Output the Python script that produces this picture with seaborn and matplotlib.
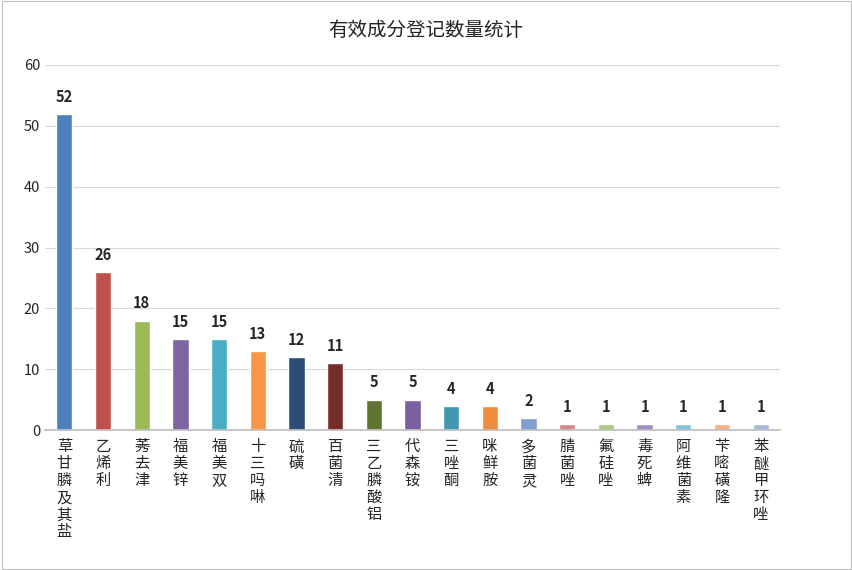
import matplotlib
matplotlib.use("Agg")
import matplotlib.pyplot as plt
import seaborn as sns
import pandas as pd

categories = ["草甘膦及其盐","乙烯利","莠去津","福美锌","福美双","十三吗啉","硫磺","百菌清","三乙膦酸铝",
              "代森铵","三唑酮","咪鲜胺","多菌灵","腈菌唑","氟硅唑","毒死蜱","阿维菌素","苄嘧磺隆","苯醚甲环唑"]
values = [52,26,18,15,15,13,12,11,5,5,4,4,2,1,1,1,1,1,1]
colors = ["#4F81BD","#C0504D","#9BBB59","#8064A2","#4BACC6","#F79646","#2C4D75","#772C2A","#5F7530",
          "#7B5FA0","#4298AF","#EE8C3F","#7F9FCC","#D58A89","#AFC97E","#A08EC0","#7FC5D8","#F9B281","#A7B9DA"]

sns.set_theme(style="white", rc={"font.family": ["Noto Sans CJK SC","Noto Sans CJK JP","Noto Sans CJK TC","DejaVu Sans"]})
fig = plt.figure(figsize=(8.53,5.70), dpi=100)
ax = fig.add_axes([45/853, 1-430/570, 735/853, 365/570])
df = pd.DataFrame({"c":["\n".join(c) for c in categories],"v":values})
sns.barplot(data=df, x="c", y="v", hue="c", palette=colors, legend=False, width=0.42, ax=ax, saturation=1)
for i,v in enumerate(values):
    ax.text(i, v+1.5, str(v), ha="center", va="bottom", fontsize=10.5, fontweight="bold")
ax.set_ylim(0,60)
ax.set_yticks(range(0,61,10))
ax.set_xlim(-0.5,len(values)-0.5)
ax.grid(axis="y", color="#D9D9D9", lw=0.8)
ax.set_axisbelow(True)
for s in ["top","right","left"]:
    ax.spines[s].set_visible(False)
ax.spines["bottom"].set_color("#BFBFBF")
ax.tick_params(axis="y", length=0, labelsize=10.5)
ax.tick_params(axis="x", length=0, labelsize=11, pad=6)
ax.set_xlabel(""); ax.set_ylabel("")
for t in ax.get_xticklabels():
    t.set_va("top"); t.set_linespacing(1.0)
fig.text(426/853, 1-30/570, "有效成分登记数量统计", ha="center", va="center", fontsize=14)
fig.patches.append(plt.Rectangle((0.002,0.002),0.996,0.996, transform=fig.transFigure, fill=False, ec="#BFBFBF", lw=0.8))
fig.savefig("out.png", dpi=100)
